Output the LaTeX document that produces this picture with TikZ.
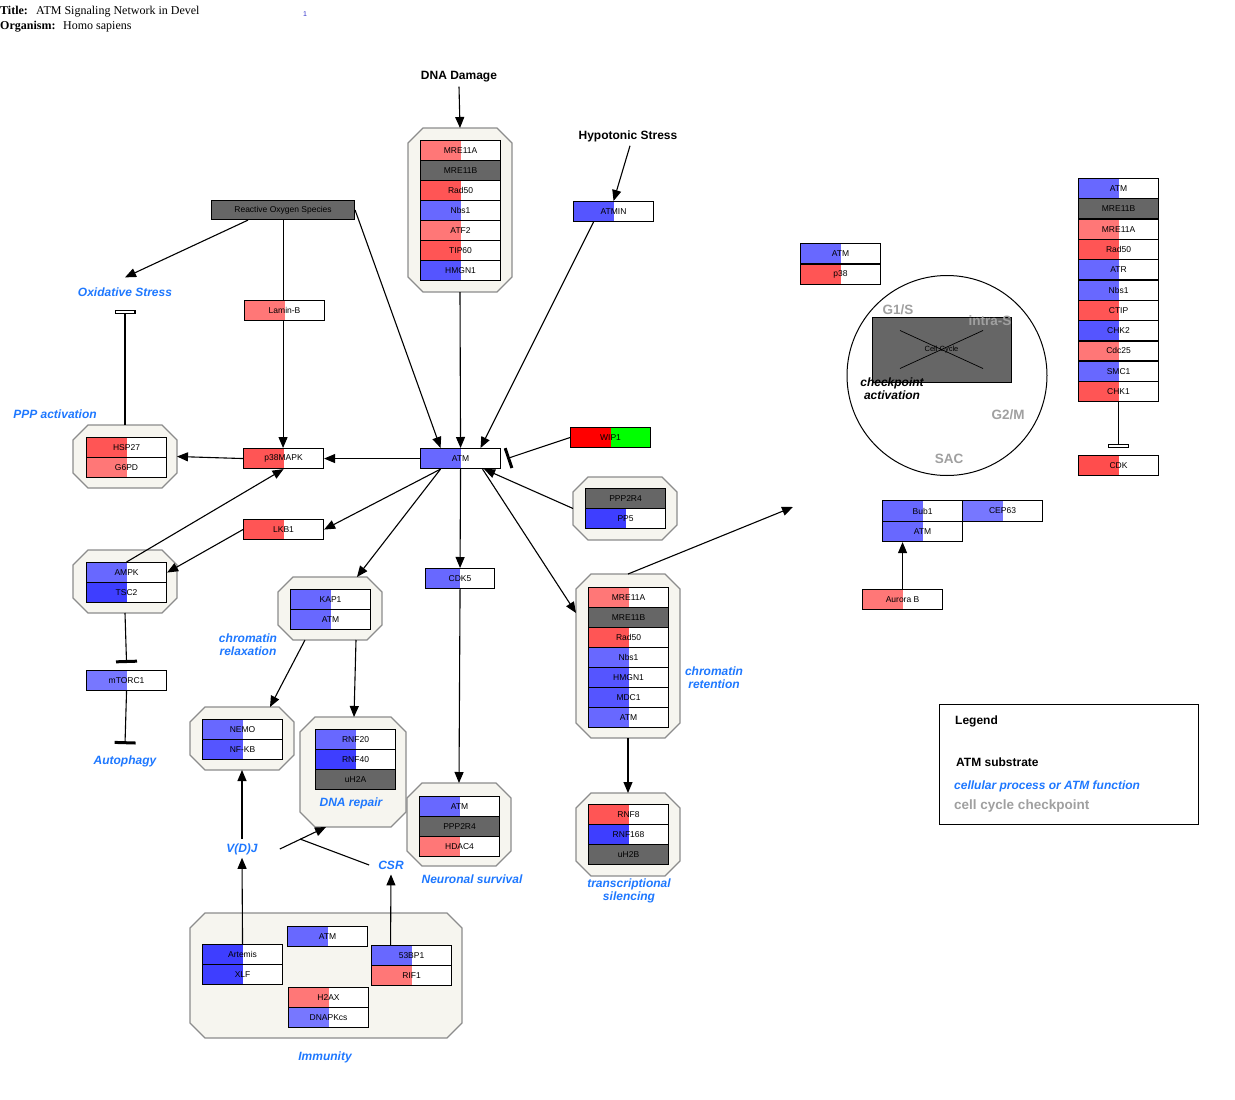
\documentclass[tikz,border=0pt]{standalone}
\usepackage{fontspec}
\setmainfont{Liberation Serif}
\setsansfont{Liberation Sans}
\usetikzlibrary{arrows.meta}
\definecolor{dgray}{HTML}{666666}
\definecolor{redA}{HTML}{FF5555}
\definecolor{redB}{HTML}{FF7777}
\definecolor{redC}{HTML}{FF4D4D}
\definecolor{blueA}{HTML}{6868FF}
\definecolor{blueB}{HTML}{5555FF}
\definecolor{blueC}{HTML}{3E3EFF}
\definecolor{blueD}{HTML}{7777FF}
\definecolor{wipred}{HTML}{FF0000}
\definecolor{wipgreen}{HTML}{00FF00}
\definecolor{proc}{HTML}{1E78FF}
\definecolor{chk}{HTML}{A0A0A0}
\definecolor{cfill}{HTML}{F6F5EF}
\definecolor{cedge}{HTML}{8C8C8C}
\definecolor{numblue}{HTML}{3333CC}
\newcommand\gfont{\fontsize{8.5}{9}\selectfont\sffamily}
\newcommand\lfont{\fontsize{12}{13}\selectfont\sffamily\bfseries}
% complex outline: name, top-left x, y, bottom-right x, y
\newcommand\cplx[5]{%
  \draw[line width=1.1pt, draw=cedge, fill=cfill]
    (#2+15,#3) -- (#4-15,#3) -- (#4,#3+15) -- (#4,#5-15) -- (#4-15,#5)
    -- (#2+15,#5) -- (#2,#5-15) -- (#2,#3+15) -- cycle;
  \node[inner sep=0pt, outer sep=0pt, minimum width={(#4-#2)*1pt},
        minimum height={(#5-#3)*1pt}] (#1) at ({(#2+#4)/2},{(#3+#5)/2}) {};}
\tikzset{
  gene/.style={draw=black, fill=white, line width=1.1pt, minimum width=80pt, minimum height=20pt,
    inner sep=0pt, anchor=north west, font=\gfont,
    path picture={\fill[#1] (path picture bounding box.south west) rectangle (path picture bounding box.north);}},
  gbox/.style={draw=black, line width=1.1pt, fill=dgray, minimum width=80pt, minimum height=20pt,
    inner sep=0pt, anchor=north west, font=\gfont},
  proclab/.style={font=\lfont\itshape, text=proc, align=center, inner sep=0pt},
  chklab/.style={font=\fontsize{13.5}{15}\selectfont\sffamily\bfseries, text=chk, inner sep=0pt},
  blab/.style={font=\lfont, inner sep=0pt},
  arr/.style={-{Triangle[length=11pt,width=9pt]}, line width=1.1pt},
  inh/.style={-{Bar[width=21pt,line width=3pt]}, line width=1.1pt},
  inho/.style={-{Rectangle[open,length=4pt,width=21pt,line width=1.1pt]}, line width=1.1pt},
}
\begin{document}
\begin{tikzpicture}[x=1pt,y=-1pt]
\fill[white] (0,0) rectangle (1235,1100);
\useasboundingbox (0,0) rectangle (1235,1100);

% header
\node[anchor=base west, inner sep=0pt, font=\fontsize{12}{14}\selectfont\bfseries] (ttl) at (0,15) {Title:};
\node[anchor=base west, inner sep=0pt, font=\fontsize{12}{14}\selectfont] (ttlv) at (36,15) {ATM Signaling Network in Devel};
\node[anchor=base west, inner sep=0pt, font=\fontsize{12}{14}\selectfont\bfseries] (org) at (0,30) {Organism:};
\node[anchor=base west, inner sep=0pt, font=\fontsize{12}{14}\selectfont] (orgv) at (63,30) {Homo sapiens};
\node[inner sep=0pt, font=\fontsize{7}{8}\selectfont\sffamily, text=numblue] (pg) at (305,14) {1};

% complexes
\cplx{dnac}{408}{128}{512}{292}
\cplx{hspc}{73}{425}{177}{488}
\cplx{ampkc}{73}{550}{177}{613}
\cplx{ppc}{573}{477}{677}{540}
\cplx{kapc}{278}{577}{382}{640}
\cplx{nemoc}{190}{707}{294}{770}
\cplx{rnfc}{300}{717}{406}{827}
\cplx{neuc}{407}{783}{511}{866}
\cplx{crc}{576}{574}{680}{738}
\cplx{tsc}{576}{793}{680}{876}
\cplx{immc}{190}{913}{462}{1038}

% DNA damage complex
\node[gene=redB] (d1) at (420,140) {MRE11A};
\node[gbox] (d2) at (420,160) {MRE11B};
\node[gene=redA] (d3) at (420,180) {Rad50};
\node[gene=blueA] (d4) at (420,200) {Nbs1};
\node[gene=redB] (d5) at (420,220) {ATF2};
\node[gene=redA] (d6) at (420,240) {TIP60};
\node[gene=blueB] (d7) at (420,260) {HMGN1};

% upper left
\node[gbox, minimum width=143pt, minimum height=19pt] (ros) at (211,200) {Reactive Oxygen Species};
\node[gene=redB] (lamin) at (244,300) {Lamin-B};
\node[gene=redA] (p38m) at (243,448) {p38MAPK};
\node[gene=redA] (lkb) at (243,519) {LKB1};
\node[gene=redA] (hsp) at (86,437) {HSP27};
\node[gene=redB] (g6pd) at (86,457) {G6PD};
\node[gene=blueA] (ampk) at (86,562) {AMPK};
\node[gene=blueC] (tsc2) at (86,582) {TSC2};
\node[gene=blueD] (mtor) at (86,670) {mTORC1};

% centre
\node[gene=blueA] (atm) at (420,448) {ATM};
\node[gene=blueB] (atmin) at (573,201) {ATMIN};
\node[gene=wipred, fill=wipgreen] (wip) at (570,427) {WIP1};
\node[gbox] (pp2) at (585,488) {PPP2R4};
\node[gene=blueC] (pp5) at (585,508) {PP5};
\node[gene=blueA, minimum width=69pt] (cdk5) at (425,568) {CDK5};

\node[gene=blueA] (kap1) at (290,589) {KAP1};
\node[gene=blueA] (katm) at (290,609) {ATM};
\node[gene=blueA] (nemo) at (202,719) {NEMO};
\node[gene=blueB] (nfkb) at (202,739) {NF-KB};
\node[gene=blueA] (rnf20) at (315,729) {RNF20};
\node[gene=blueC] (rnf40) at (315,749) {RNF40};
\node[gbox] (uh2a) at (315,769) {uH2A};
\node[gene=blueA] (natm) at (419,796) {ATM};
\node[gbox] (npp) at (419,816) {PPP2R4};
\node[gene=redB] (hdac) at (419,836) {HDAC4};

% chromatin retention complex
\node[gene=redB] (c1) at (588,587) {MRE11A};
\node[gbox] (c2) at (588,607) {MRE11B};
\node[gene=redA] (c3) at (588,627) {Rad50};
\node[gene=blueA] (c4) at (588,647) {Nbs1};
\node[gene=blueB] (c5) at (588,667) {HMGN1};
\node[gene=blueB] (c6) at (588,687) {MDC1};
\node[gene=blueA] (c7) at (588,707) {ATM};
\node[gene=redA] (rnf8) at (588,804) {RNF8};
\node[gene=blueC] (rnf168) at (588,824) {RNF168};
\node[gbox] (uh2b) at (588,844) {uH2B};

% immunity complex
\node[gene=blueA] (iatm) at (287,926) {ATM};
\node[gene=blueC] (art) at (202,944) {Artemis};
\node[gene=blueC] (xlf) at (202,964) {XLF};
\node[gene=blueA] (bp1) at (371,945) {53BP1};
\node[gene=redB] (rif) at (371,965) {RIF1};
\node[gene=redB] (h2ax) at (288,987) {H2AX};
\node[gene=blueD] (dnapk) at (288,1007) {DNAPKcs};

% cell cycle
\node[circle, draw=black, line width=1pt, minimum size=200pt, inner sep=0pt] (cyc) at (947,375.5) {};
\node[draw=black, line width=0.8pt, fill=dgray, minimum width=139pt, minimum height=65pt, inner sep=0pt, font=\fontsize{7.5}{8}\selectfont\sffamily] (ccb) at (941.5,349.5) {Cell Cycle};
\draw[line width=0.7pt] ([shift={(-41.5,-19)}]ccb.center) -- ([shift={(41.5,19)}]ccb.center);
\draw[line width=0.7pt] ([shift={(-41.5,19)}]ccb.center) -- ([shift={(41.5,-19)}]ccb.center);
\node[chklab] (g1s) at (898,310) {G1/S};
\node[chklab] (intras) at (990,321) {intra-S};
\node[chklab] (g2m) at (1008,415) {G2/M};
\node[chklab] (sac) at (949,459) {SAC};
\node[font=\lfont\itshape, align=center, inner sep=0pt] (chkact) at (892,388.5) {checkpoint\\activation};

% right side
\node[gene=blueA] (ratm) at (800,243) {ATM};
\node[gene=redA] (rp38) at (800,264) {p38};
\node[gene=blueA] (k1) at (1078,178) {ATM};
\node[gbox] (k2) at (1078,198.3) {MRE11B};
\node[gene=redB] (k3) at (1078,218.6) {MRE11A};
\node[gene=redA] (k4) at (1078,238.9) {Rad50};
\node[gene=blueA] (k5) at (1078,259.2) {ATR};
\node[gene=blueA] (k6) at (1078,279.5) {Nbs1};
\node[gene=redA] (k7) at (1078,299.8) {CTIP};
\node[gene=blueB] (k8) at (1078,320.1) {CHK2};
\node[gene=redB] (k9) at (1078,340.4) {Cdc25};
\node[gene=blueA] (k10) at (1078,360.7) {SMC1};
\node[gene=redA] (k11) at (1078,381) {CHK1};
\node[gene=redC] (cdk) at (1078,455) {CDK};
\node[gene=blueA, minimum height=21pt] (bub) at (882,500) {Bub1};
\node[gene=blueD, minimum height=21pt] (cep) at (962,500) {CEP63};
\node[gene=blueA] (batm) at (882,521) {ATM};
\node[gene=redB] (aur) at (862,589) {Aurora B};

% legend
\node[draw=black, line width=0.9pt, anchor=north west, minimum width=259pt, minimum height=120pt, inner sep=0pt] (leg) at (939,704) {};
\node[blab, anchor=base west] (legt) at (955,724) {Legend};
\node[blab, anchor=base west] (legs) at (956,766) {ATM substrate};
\node[proclab, anchor=base west] (legp) at (954,789) {cellular process or ATM function};
\node[chklab, anchor=base west] (legc) at (954,809) {cell cycle checkpoint};

% labels
\node[blab] (dna) at (459,77) {DNA Damage};
\node[blab] (hyp) at (628,136) {Hypotonic Stress};
\node[proclab] (ox) at (125,292) {Oxidative Stress};
\node[proclab] (ppp) at (55,414) {PPP activation};
\node[proclab] (auto) at (125,761) {Autophagy};
\node[proclab] (crel) at (248,644.5) {chromatin\\relaxation};
\node[proclab] (drep) at (351,803) {DNA repair};
\node[proclab] (neur) at (472,879) {Neuronal survival};
\node[proclab] (cret) at (714,677.5) {chromatin\\retention};
\node[proclab] (tsil) at (629,890.5) {transcriptional\\silencing};
\node[proclab] (imm) at (325,1057) {Immunity};
\node[proclab] (vdj) at (242,849) {V(D)J};
\node[proclab] (csr) at (391,865) {CSR};
\coordinate (ccend) at (793,507);
\coordinate (jn) at (300,839);

% connectors
\draw[arr] (dna.south) ++(0,4) -- (dnac.north);
\draw[arr] (dnac.south) -- (atm.north);
\draw[arr] ([shift={(2,4)}]hyp.south) -- (atmin.north);
\draw[arr] ([xshift=-20pt]atmin.south) -- ([xshift=20pt]atm.north);
\draw[arr] ([xshift=-35pt]ros.south) -- ([yshift=10pt]ox.north);
\draw[line width=1.1pt] (ros.south) -- (ros.south |- lamin.north);
\draw[arr] (ros.south |- lamin.south) -- (ros.south |- p38m.north);
\draw[arr] (ros.east) -- ([xshift=-20pt]atm.north);
\draw[inho] (hspc.north) -- ([yshift=-13pt]ox.south);
\draw[arr] (p38m.west) -- (hspc.east);
\draw[arr] (atm.west) -- (p38m.east);
\draw[inh] (wip.west) -- ([xshift=6pt]atm.east);
\draw[arr] (ppc.west) -- ([xshift=-17pt]atm.south east);
\draw[arr] ([xshift=-20pt]atm.south) -- (lkb.east);
\draw[arr] (lkb.west) -- (ampk.east);
\draw[arr] (ampk.north) -- (p38m.south);
\draw[inh] (ampkc.south) -- ([yshift=7pt]mtor.north);
\draw[inh] (mtor.south) -- ([yshift=11pt]auto.north);
\draw[arr] ([xshift=-20pt]atm.south) -- ([xshift=27pt]kapc.north);
\draw[arr] ([xshift=-25pt]kapc.south) -- ([xshift=28pt]nemoc.north);
\draw[arr] ([xshift=26pt]kapc.south) -- ([xshift=1pt]rnfc.north);
\draw[arr] (atm.south) -- (cdk5.south |- cdk5.north);
\draw[arr] (cdk5.south) -- (neuc.north);
\draw[arr] ([xshift=22pt]atm.south) -- ([yshift=43pt]crc.west);
\draw[arr] (crc.north) -- (ccend);
\draw[arr] (crc.south) -- (tsc.north);
\draw[arr] (art.north) -- ([yshift=-3pt]vdj.south);
\draw[arr] ([yshift=4pt]vdj.north) -- (nemoc.south);
\draw[arr] ([xshift=-21pt]bp1.north) -- ([yshift=-5pt]csr.south);
\draw[arr] ([xshift=22pt]vdj.east) -- ([xshift=26pt]rnfc.south west);
\draw[line width=1.1pt] ([xshift=-9pt]csr.west) -- (jn);
\draw[arr] (aur.north) -- (aur.north |- batm.south);
\draw[inho] (k11.south) -- ([yshift=7pt]cdk.north);
\end{tikzpicture}
\end{document}
